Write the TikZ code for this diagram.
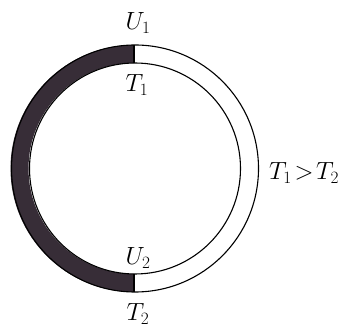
\documentclass[tikz,border=0pt]{standalone}
\usepackage{tikz}
\usetikzlibrary{positioning}
\definecolor{ringdark}{RGB}{55, 45, 55}

\begin{document}
\begin{tikzpicture}[
    x=1pt, y=1pt,
    label/.style={inner sep=0pt, font=\fontsize{24}{28}\selectfont},
    rim/.style={draw=black, line width=1.1pt}
]
    \useasboundingbox (0,0) rectangle (340,329);
    % left half of the ring
    \fill[ringdark] (134,284) arc[start angle=90, end angle=270, radius=123.5]
        -- (134,55) arc[start angle=270, end angle=90, radius=105.5] -- cycle;
    \draw[rim] (135,160.5) circle[radius=123.5];
    \draw[rim] (135,160.5) circle[radius=105.5];
    \draw[rim] (134,284) -- (134,266);
    \draw[rim] (134,37) -- (134,55);

    \node[label] (u1) at (138,306) {$U_1$};
    \node[label] (t1) at (137,244) {$T_1$};
    \node[label] (u2) at (138,71) {$U_2$};
    \node[label] (t2) at (138,15) {$T_2$};
    \node[label] (cmp) at (304,156) {$T_1\!>\!T_2$};
\end{tikzpicture}
\end{document}
